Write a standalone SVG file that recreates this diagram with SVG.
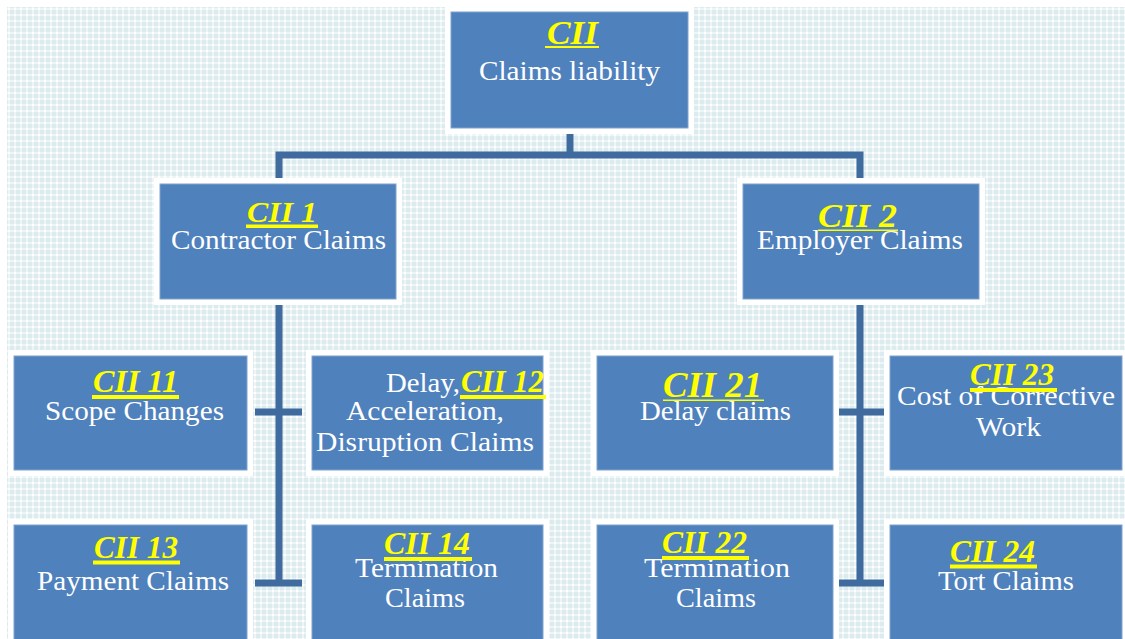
<svg xmlns="http://www.w3.org/2000/svg" width="1125" height="639" viewBox="0 0 1125 639">
<defs>
<pattern id="bgp" width="6" height="6" patternUnits="userSpaceOnUse">
<rect width="6" height="6" fill="#dcecee"/>
<rect x="2" y="0" width="2" height="6" fill="#edf5f6"/>
<rect x="0" y="2" width="6" height="2" fill="#edf5f6"/>
<rect x="2" y="2" width="2" height="2" fill="#ffffff"/>
</pattern>
<style>
.wb{fill:#ffffff}
.bx{fill:#4f81bd;stroke:#7fa3cf;stroke-width:1}
.lbl{font-family:"Liberation Serif","Times New Roman",serif;font-weight:bold;font-style:italic;fill:#ffff00}
.txt{font-family:"Liberation Serif","Times New Roman",serif;fill:#ffffff;font-size:27px}
.ul{fill:#ffff00}
.cn{stroke:#3f6b9f;stroke-width:7;fill:none}
</style>
</defs>
<rect width="1125" height="639" fill="#ffffff"/>
<rect x="7" y="7" width="1118" height="632" fill="url(#bgp)"/>

<g id="connectors">
<path class="cn" d="M570 130 V155 M275.5 155 H863.5 M279 155 V180 M860 155 V180"/>
<path class="cn" d="M279 302 V586 M255 412 H302 M255 583 H302"/>
<path class="cn" d="M860 302 V586 M837 412 H884 M837 583 H884"/>
</g>

<g id="cii">
<rect class="wb" x="445" y="5" width="249" height="129"/>
<rect class="bx" x="451" y="12" width="237" height="116"/>
<text class="lbl" x="547" y="44" font-size="34" textLength="51" lengthAdjust="spacingAndGlyphs">CII</text>
<rect class="ul" x="545" y="46" width="54" height="2"/>
<text class="txt" x="479" y="80" font-size="28" textLength="181" lengthAdjust="spacingAndGlyphs">Claims liability</text>
</g>

<g id="cii1">
<rect class="wb" x="154" y="178" width="248" height="127"/>
<rect class="bx" x="160" y="184" width="236" height="115"/>
<text class="lbl" x="247" y="222" font-size="30" textLength="70" lengthAdjust="spacingAndGlyphs">CII 1</text>
<rect class="ul" x="246" y="224.5" width="72" height="3.5"/>
<text class="txt" x="171" y="249" textLength="215" lengthAdjust="spacingAndGlyphs">Contractor Claims</text>
</g>

<g id="cii2">
<rect class="wb" x="737" y="178" width="248" height="127"/>
<rect class="bx" x="743" y="184" width="236" height="115"/>
<text class="lbl" x="818" y="227" font-size="34" textLength="79" lengthAdjust="spacingAndGlyphs">CII 2</text>
<rect class="ul" x="818" y="229.5" width="80" height="1.5"/>
<text class="txt" x="757" y="249" textLength="206" lengthAdjust="spacingAndGlyphs">Employer Claims</text>
</g>

<g id="cii11">
<rect class="wb" x="8" y="350" width="245" height="126"/>
<rect class="bx" x="14" y="356" width="233" height="114"/>
<text class="lbl" x="93" y="392" font-size="32" textLength="85" lengthAdjust="spacingAndGlyphs">CII 11</text>
<rect class="ul" x="92" y="395" width="87" height="4"/>
<text class="txt" x="45" y="420" textLength="179" lengthAdjust="spacingAndGlyphs">Scope Changes</text>
</g>

<g id="cii12">
<rect class="wb" x="306" y="350" width="243" height="126"/>
<rect class="bx" x="312" y="356" width="231" height="114"/>
<text class="txt" x="386" y="392" textLength="74" lengthAdjust="spacingAndGlyphs">Delay,</text>
<text class="lbl" x="461" y="392" font-size="32" textLength="83" lengthAdjust="spacingAndGlyphs">CII 12</text>
<rect class="ul" x="460" y="395" width="86" height="4"/>
<text class="txt" x="346" y="420" textLength="158" lengthAdjust="spacingAndGlyphs">Acceleration,</text>
<text class="txt" x="316" y="451" textLength="218" lengthAdjust="spacingAndGlyphs">Disruption Claims</text>
</g>

<g id="cii21">
<rect class="wb" x="591" y="350" width="248" height="126"/>
<rect class="bx" x="597" y="356" width="236" height="114"/>
<text class="lbl" x="663" y="397" font-size="36" textLength="99" lengthAdjust="spacingAndGlyphs">CII 21</text>
<rect class="ul" x="663" y="399.5" width="101" height="1.5"/>
<text class="txt" x="640" y="420" textLength="151" lengthAdjust="spacingAndGlyphs">Delay claims</text>
</g>

<g id="cii23">
<rect class="wb" x="884" y="350" width="241" height="126"/>
<rect class="bx" x="890" y="356" width="232" height="114"/>
<text class="txt" x="897" y="405" textLength="218" lengthAdjust="spacingAndGlyphs">Cost of Corrective</text>
<text class="txt" x="976" y="436" textLength="65" lengthAdjust="spacingAndGlyphs">Work</text>
<text class="lbl" x="970" y="385" font-size="32" textLength="84" lengthAdjust="spacingAndGlyphs">CII 23</text>
<rect class="ul" x="970" y="388" width="87" height="4"/>
</g>

<g id="cii13">
<rect class="wb" x="8" y="519" width="245" height="125"/>
<rect class="bx" x="14" y="525" width="233" height="120"/>
<text class="lbl" x="94" y="558" font-size="32" textLength="84" lengthAdjust="spacingAndGlyphs">CII 13</text>
<rect class="ul" x="93" y="560.5" width="87" height="4"/>
<text class="txt" x="37" y="590" textLength="192" lengthAdjust="spacingAndGlyphs">Payment Claims</text>
</g>

<g id="cii14">
<rect class="wb" x="306" y="519" width="243" height="125"/>
<rect class="bx" x="312" y="525" width="231" height="120"/>
<text class="txt" x="355" y="577" textLength="143" lengthAdjust="spacingAndGlyphs">Termination</text>
<text class="txt" x="385" y="607" textLength="80" lengthAdjust="spacingAndGlyphs">Claims</text>
<text class="lbl" x="384" y="554" font-size="32" textLength="86" lengthAdjust="spacingAndGlyphs">CII 14</text>
<rect class="ul" x="384" y="557" width="88" height="4"/>
</g>

<g id="cii22">
<rect class="wb" x="591" y="519" width="248" height="125"/>
<rect class="bx" x="597" y="525" width="236" height="120"/>
<text class="txt" x="644" y="577" textLength="146" lengthAdjust="spacingAndGlyphs">Termination</text>
<text class="txt" x="676" y="607" textLength="80" lengthAdjust="spacingAndGlyphs">Claims</text>
<text class="lbl" x="662" y="553" font-size="32" textLength="85" lengthAdjust="spacingAndGlyphs">CII 22</text>
<rect class="ul" x="662" y="556" width="87" height="4"/>
</g>

<g id="cii24">
<rect class="wb" x="884" y="519" width="241" height="125"/>
<rect class="bx" x="890" y="525" width="232" height="120"/>
<text class="lbl" x="950" y="562" font-size="32" textLength="85" lengthAdjust="spacingAndGlyphs">CII 24</text>
<rect class="ul" x="950" y="564.5" width="87" height="4"/>
<text class="txt" x="938" y="590" textLength="136" lengthAdjust="spacingAndGlyphs">Tort Claims</text>
</g>
</svg>
